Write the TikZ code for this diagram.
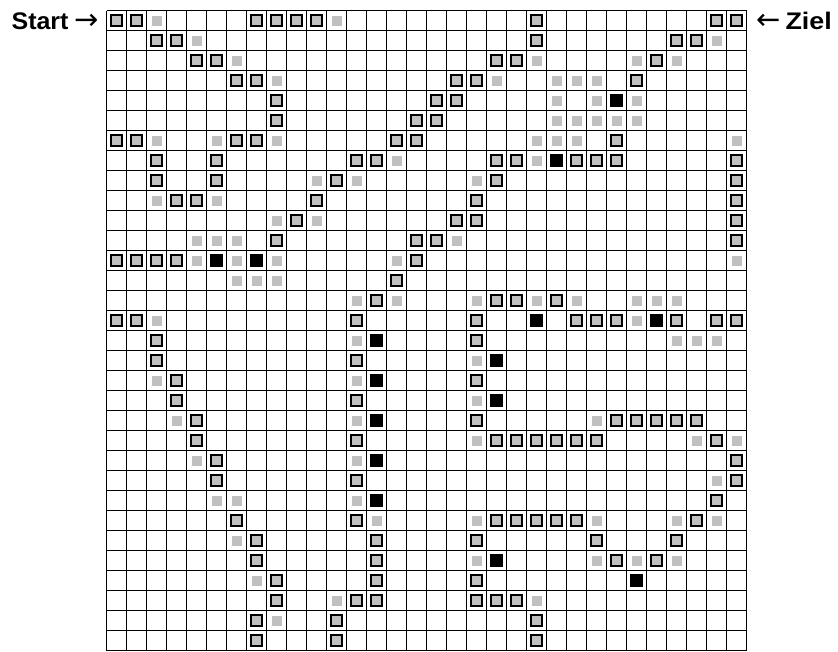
\documentclass[tikz,border=0pt]{standalone}
\usepackage{fontspec}
\setmainfont{Liberation Sans}
\newfontfamily\arrowfont{DejaVu Sans}
\definecolor{cellgray}{RGB}{192,192,192}
\tikzset{
  gridline/.style={line width=1.6pt, black},
  pathcell/.style={draw=black, line width=1.9pt, fill=cellgray},
  seencell/.style={fill=cellgray},
  hitcell/.style={fill=black},
  labeltext/.style={inner sep=0pt, font=\fontsize{24}{28}\selectfont}
}
\newcommand{\bigarrow}[1]{{\arrowfont\mdseries\fontsize{29}{30}\selectfont\raisebox{-0.5pt}{#1}}}
\begin{document}
\begin{tikzpicture}[x=1pt,y=-1pt]
\useasboundingbox (0,0) rectangle (838,651);
% grid
\foreach \i in {0,...,32} {
  \draw[gridline] (106.5+20*\i,10.5) -- (106.5+20*\i,650.5);
  \draw[gridline] (106.5,10.5+20*\i) -- (746.5,10.5+20*\i);
}
% bordered grey cells
\foreach \r/\cl in {
 0/{0,1,7,8,9,10,21,30,31},
 1/{2,3,21,28,29},
 2/{4,5,19,20,27},
 3/{6,7,17,18,26},
 4/{8,16,17},
 5/{8,15,16},
 6/{0,1,6,7,14,15,25},
 7/{2,5,12,13,19,20,23,24,25,31},
 8/{2,5,11,19,31},
 9/{3,4,10,18,31},
 10/{9,17,18,31},
 11/{8,15,16,31},
 12/{0,1,2,3,15},
 13/{14},
 14/{13,19,20,22},
 15/{0,1,12,18,23,24,25,28,30,31},
 16/{2,18},
 17/{2,12},
 18/{3,18},
 19/{3,12},
 20/{4,18,25,26,27,28,29},
 21/{4,12,19,20,21,22,23,24,30},
 22/{5,31},
 23/{5,12,31},
 24/{30},
 25/{6,12,19,20,21,22,23,29},
 26/{7,13,18,24,28},
 27/{7,13,25,27},
 28/{8,13,18},
 29/{8,12,13,18,19,20},
 30/{7,11,21},
 31/{7,11,21}} {
  \foreach \c in \cl {
    \draw[pathcell] (116.5+20*\c-5.75,20.5+20*\r-5.75) rectangle ++(11.5,11.5);
  }
}
% light grey cells
\foreach \r/\cl in {
 0/{2,11},
 1/{4,30},
 2/{6,21,26,28},
 3/{8,19,22,23,24},
 4/{22,24,26},
 5/{22,23,24,25,26},
 6/{2,5,8,21,22,23,31},
 7/{14,21},
 8/{10,12,18},
 9/{2,5},
 10/{8,10},
 11/{4,5,6,17},
 12/{4,6,8,14,31},
 13/{6,7,8},
 14/{12,14,18,21,23,26,27,28},
 15/{2,26},
 16/{12,28,29,30},
 17/{18},
 18/{2,12},
 19/{18},
 20/{3,12,24},
 21/{18,29,31},
 22/{4,12},
 23/{30},
 24/{5,6,12},
 25/{13,18,24,28,30},
 26/{6},
 27/{18,24,26,28},
 28/{7},
 29/{11,21},
 30/{8}} {
  \foreach \c in \cl {
    \fill[seencell] (116.5+20*\c-5,20.5+20*\r-5) rectangle ++(10,10);
  }
}
% black cells
\foreach \r/\cl in {
 4/{25},
 7/{22},
 12/{5,7},
 15/{21,27},
 16/{13},
 17/{19},
 18/{13},
 19/{19},
 20/{13},
 22/{13},
 24/{13},
 27/{19},
 28/{26}} {
  \foreach \c in \cl {
    \fill[hitcell] (116.5+20*\c-6.6,20.5+20*\r-6.6) rectangle ++(13.2,13.2);
  }
}
% labels
\node[labeltext, anchor=base east] (start) at (99,29)
  {\bfseries\scalebox{1.04}[1]{Start}\hspace{6pt}\bigarrow{→}};
\node[labeltext, anchor=base west] (ziel) at (756,29)
  {\bigarrow{←}\hspace{5pt}\bfseries\scalebox{1.12}[1]{Ziel}};
\end{tikzpicture}
\end{document}
